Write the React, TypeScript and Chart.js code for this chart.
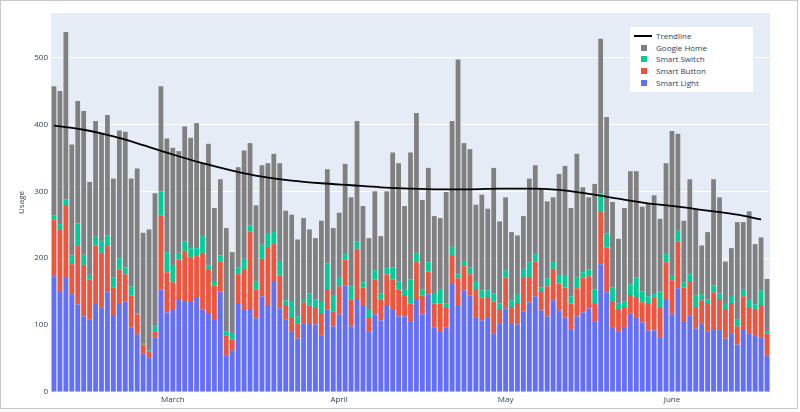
import React, { useEffect, useRef } from 'react';
import { Chart, registerables } from 'chart.js';

Chart.register(...registerables);

// 121 consecutive daily bars
const categories: string[] = Array.from({ length: 121 }, (_, i) => `Day ${i + 1}`);

const monthTickIndex = [20, 48, 76, 104];
const monthTickLabels = ['March', 'April', 'May', 'June'];

const smartLight = [
  173, 151, 172, 146, 131, 113, 108, 133, 126, 149, 115, 133, 135, 96, 86, 58, 52, 81, 153, 119,
  124, 139, 136, 136, 142, 123, 118, 109, 150, 55, 62, 133, 124, 124, 110, 143, 130, 166, 125, 108,
  91, 80, 102, 103, 101, 84, 123, 98, 116, 159, 98, 139, 130, 91, 116, 107, 130, 124, 113, 113,
  106, 139, 116, 146, 96, 91, 96, 163, 130, 152, 144, 112, 107, 112, 87, 103, 125, 103, 101, 120,
  134, 143, 122, 113, 137, 122, 111, 94, 113, 119, 125, 106, 191, 149, 97, 91, 97, 117, 112, 104,
  92, 92, 82, 139, 116, 155, 106, 114, 95, 102, 90, 94, 94, 80, 88, 71, 94, 88, 85, 81,
  54,
];

const smartButton = [
  85, 91, 106, 45, 87, 77, 60, 86, 82, 69, 41, 50, 41, 48, 30, 13, 9, 9, 111, 60,
  40, 59, 75, 66, 61, 85, 66, 50, 45, 29, 16, 43, 60, 116, 43, 56, 87, 55, 49, 22,
  21, 22, 32, 26, 26, 34, 31, 22, 42, 39, 40, 75, 26, 21, 52, 31, 46, 44, 40, 32,
  26, 55, 28, 34, 36, 41, 31, 42, 40, 36, 32, 42, 34, 30, 48, 21, 46, 24, 32, 52,
  38, 52, 29, 45, 47, 40, 45, 38, 42, 52, 48, 27, 78, 67, 39, 33, 30, 28, 30, 30,
  41, 49, 45, 55, 51, 70, 50, 52, 32, 35, 43, 55, 45, 44, 45, 27, 49, 39, 39, 49,
  33,
];

const smartSwitch = [
  6, 9, 10, 13, 34, 15, 7, 13, 18, 16, 15, 17, 10, 14, 2, 2, 1, 8, 36, 30,
  26, 10, 14, 13, 12, 25, 5, 7, 9, 6, 10, 10, 15, 9, 12, 21, 19, 18, 22, 7,
  24, 11, 5, 18, 11, 18, 38, 25, 14, 8, 20, 11, 8, 12, 14, 9, 9, 18, 12, 9,
  36, 13, 9, 14, 16, 22, 5, 12, 6, 8, 10, 12, 11, 10, 12, 8, 11, 10, 15, 12,
  22, 11, 5, 12, 10, 13, 19, 11, 16, 8, 10, 20, 28, 21, 20, 8, 8, 16, 29, 16,
  10, 5, 23, 12, 8, 16, 8, 10, 17, 9, 5, 10, 8, 9, 12, 10, 11, 12, 7, 22,
  4,
];

const googleHome = [
  193, 199, 250, 166, 183, 215, 139, 173, 161, 180, 148, 191, 203, 161, 216, 165, 181, 199, 157, 170,
  175, 152, 172, 165, 187, 109, 182, 109, 114, 155, 121, 150, 162, 123, 114, 119, 106, 117, 146, 134,
  129, 115, 121, 96, 92, 120, 141, 100, 96, 135, 133, 180, 114, 106, 118, 86, 115, 172, 177, 124,
  190, 210, 134, 141, 115, 106, 167, 188, 321, 176, 177, 114, 143, 122, 188, 123, 109, 102, 86, 79,
  125, 133, 149, 115, 97, 151, 163, 132, 185, 127, 108, 158, 231, 174, 128, 97, 140, 169, 159, 127,
  138, 148, 109, 136, 215, 145, 92, 142, 129, 73, 101, 159, 144, 62, 70, 146, 100, 131, 90, 79,
  78,
];

// Trendline read at selected bars
const trendIndex = [0, 5, 10, 15, 20, 25, 30, 35, 40, 45, 50, 55, 60, 65, 70, 75, 80, 85, 90, 95, 100, 105, 110, 115, 119];
const trendValues = [398, 392, 382, 369, 355, 342, 331, 322, 316, 312, 309, 306, 304, 303, 303, 304, 304, 302, 296, 289, 282, 277, 271, 265, 258];

const yTicks = [0, 100, 200, 300, 400, 500];

const COLORS = {
  light: '#636efa',
  button: '#ef553b',
  sw: '#00cc96',
  home: '#808080',
};

const legendItems = [
  { label: 'Trendline', color: '#000000', kind: 'line' },
  { label: 'Google Home', color: COLORS.home, kind: 'box' },
  { label: 'Smart Switch', color: COLORS.sw, kind: 'box' },
  { label: 'Smart Button', color: COLORS.button, kind: 'box' },
  { label: 'Smart Light', color: COLORS.light, kind: 'box' },
];

const FONT = 'Open Sans, Verdana, Arial, sans-serif';
const TXT = '#2a3f5f';

const plotBg = {
  id: 'plotBg',
  beforeDraw(chart: any) {
    const { ctx, chartArea: a } = chart;
    ctx.save();
    ctx.fillStyle = '#e5ecf6';
    ctx.fillRect(a.left, a.top, a.right - a.left, a.bottom - a.top);
    ctx.restore();
  },
};

export default function App() {
  const ref = useRef<HTMLCanvasElement | null>(null);

  useEffect(() => {
    document.body.style.margin = '0';
    const canvas = ref.current;
    if (!canvas) return;
    const barCommon = { stack: 'usage', order: 1, barPercentage: 0.8, categoryPercentage: 1, borderWidth: 0 };
    const chart = new Chart(canvas, {
      type: 'bar',
      data: {
        labels: categories,
        datasets: [
          { ...barCommon, label: 'Smart Light', data: smartLight, backgroundColor: COLORS.light },
          { ...barCommon, label: 'Smart Button', data: smartButton, backgroundColor: COLORS.button },
          { ...barCommon, label: 'Smart Switch', data: smartSwitch, backgroundColor: COLORS.sw },
          { ...barCommon, label: 'Google Home', data: googleHome, backgroundColor: COLORS.home },
          {
            type: 'line',
            label: 'Trendline',
            stack: 'trend',
            order: 0,
            data: trendIndex.map((idx, k) => ({ x: categories[idx], y: trendValues[k] })),
            borderColor: '#000000',
            borderWidth: 1.8,
            pointRadius: 0,
            tension: 0.4,
            cubicInterpolationMode: 'monotone',
            fill: false,
          } as any,
        ],
      },
      options: {
        animation: false,
        responsive: false,
        maintainAspectRatio: false,
        layout: { padding: { left: 0, right: 30, top: 13, bottom: 0 } },
        plugins: { legend: { display: false }, tooltip: { enabled: false } },
        scales: {
          x: {
            stacked: true,
            grid: { display: false, drawTicks: false },
            border: { display: false },
            ticks: {
              autoSkip: false,
              maxRotation: 0,
              minRotation: 0,
              padding: 3,
              color: TXT,
              font: { family: FONT, size: 8 },
              callback: (_v: any, i: number) => {
                const k = monthTickIndex.indexOf(i);
                return k >= 0 ? monthTickLabels[k] : '';
              },
            },
            afterFit: (s: any) => {
              s.height = 20;
            },
          },
          y: {
            stacked: true,
            min: 0,
            max: 566.5,
            grid: { color: '#ffffff', lineWidth: 1, drawTicks: false },
            border: { display: false },
            ticks: {
              stepSize: 100,
              padding: 3,
              color: TXT,
              font: { family: FONT, size: 8 },
            },
            afterBuildTicks: (s: any) => {
              s.ticks = yTicks.map((v) => ({ value: v }));
            },
            title: {
              display: true,
              text: 'Usage',
              color: TXT,
              font: { family: FONT, size: 8 },
              padding: { top: 17, bottom: 0 },
            },
            afterFit: (s: any) => {
              s.width = 51;
            },
          },
        },
      } as any,
      plugins: [plotBg],
    });
    return () => chart.destroy();
  }, []);

  return (
    <div style={{ position: 'relative', width: 800, height: 412, background: '#ffffff', overflow: 'hidden' }}>
      <canvas ref={ref} width={800} height={412} style={{ display: 'block', width: 800, height: 412 }} />
      <div
        style={{
          position: 'absolute',
          left: 630,
          top: 27,
          width: 123,
          height: 65,
          background: '#ffffff',
          fontFamily: FONT,
          fontSize: 8,
          color: TXT,
        }}
      >
        {legendItems.map((it, i) => (
          <div key={it.label} style={{ position: 'absolute', left: 0, top: 2.8 + i * 11.75, height: 12, width: 123 }}>
            {it.kind === 'line' ? (
              <div style={{ position: 'absolute', left: 4, top: 5, width: 18, height: 2, background: it.color }} />
            ) : (
              <div style={{ position: 'absolute', left: 11, top: 3, width: 6, height: 6, background: it.color }} />
            )}
            <span style={{ position: 'absolute', left: 26, top: 0, lineHeight: '12px', whiteSpace: 'nowrap' }}>{it.label}</span>
          </div>
        ))}
      </div>
      <div
        style={{
          position: 'absolute',
          left: 0,
          top: 0,
          width: 798,
          height: 409,
          boxSizing: 'border-box',
          border: '1px solid #c8c8c8',
          pointerEvents: 'none',
        }}
      />
    </div>
  );
}
